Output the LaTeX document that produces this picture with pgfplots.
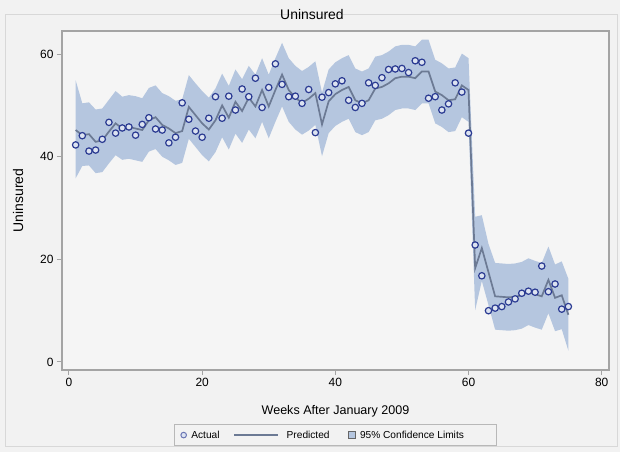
\documentclass[border=0pt]{standalone}
\usepackage{pgfplots}
\pgfplotsset{compat=1.18}
\usepackage{pgfplotstable}
\usepackage{fontspec}
\setmainfont{Liberation Sans}
\definecolor{bgc}{HTML}{F2F2F2}
\definecolor{plotbg}{HTML}{F5F5F5}
\definecolor{framec}{HTML}{A4A4A4}
\definecolor{bandc}{HTML}{B5C6DF}
\definecolor{linec}{HTML}{6C7A94}
\definecolor{markc}{HTML}{2B3B92}
\definecolor{markfill}{HTML}{DCE3F1}
\definecolor{legc}{HTML}{B8B8B8}
\definecolor{outc}{HTML}{D8D8D8}

\pgfplotstableread{
w act pred
1 42.3 45.2
2 44.1 44.2
3 41.1 44.4
4 41.3 42.9
5 43.4 43.2
6 46.7 44.9
7 44.6 46.5
8 45.6 45.5
9 45.8 45.8
10 44.2 45.5
11 46.3 45.2
12 47.6 47.1
13 45.4 47.7
14 45.2 46.2
15 42.7 45.5
16 43.8 44.6
17 50.5 45.0
18 47.3 49.7
19 45.0 48.1
20 43.8 46.5
21 47.5 45.3
22 51.7 47.1
23 47.5 50.0
24 51.8 47.6
25 49.1 50.7
26 53.2 48.9
27 51.7 51.5
28 55.3 49.8
29 49.6 53.0
30 53.5 49.8
31 58.1 53.0
32 54.1 56.0
33 51.7 53.0
34 51.8 51.5
35 50.4 50.5
36 53.1 51.3
37 44.7 52.4
38 51.6 46.3
39 52.5 50.8
40 54.2 52.2
41 54.8 53.0
42 51.0 53.6
43 49.6 51.0
44 50.4 50.4
45 54.4 51.0
46 53.9 53.3
47 55.4 53.6
48 57.0 54.3
49 57.1 55.3
50 57.2 55.6
51 56.4 55.6
52 58.7 55.3
53 58.4 56.6
54 51.4 56.6
55 51.7 52.7
56 49.1 52.0
57 50.3 51.0
58 54.4 51.2
59 52.6 53.9
60 44.6 53.0
61 22.8 18.3
62 16.8 22.2
63 10.0 17.5
64 10.5 12.8
65 10.8 12.7
66 11.7 12.6
67 12.3 12.7
68 13.4 13.0
69 13.8 13.7
70 13.6 13.2
71 18.7 12.8
72 13.7 16.0
73 15.2 12.5
74 10.3 13.0
75 10.8 9.2
}\datatab

\begin{document}
\begin{tikzpicture}
\path[use as bounding box] (0bp,0bp) rectangle (620bp,452bp);
\fill[bgc] (0bp,0bp) rectangle (620bp,452bp);
\draw[outc, line width=1bp] (5bp,5bp) rectangle (617bp,437bp);
\begin{axis}[
  at={(62bp,82bp)}, anchor=south west,
  width=547bp, height=339bp, scale only axis,
  xmin=-1.05, xmax=81.1, ymin=-1.56, ymax=64.5,
  axis background/.style={fill=plotbg},
  axis line style={framec, line width=1.3bp},
  xtick={0,20,40,60,80}, ytick={0,20,40,60},
  tick pos=left, tick align=outside, major tick length=5bp,
  tick style={framec, line width=1bp},
  /pgf/number format/assume math mode=true,
  tick label style={font=\fontsize{12}{14}\selectfont},
  title={Uninsured},
  title style={font=\fontsize{14}{16}\selectfont, at={(axis description cs:0.457,1)}, anchor=center, yshift=11bp},
  xlabel={Weeks After January 2009},
  xlabel style={font=\fontsize{12.6}{15}\selectfont, at={(axis description cs:0.5,0)}, anchor=north, yshift=-31.5bp},
  ylabel={Uninsured},
  ylabel style={font=\fontsize{14}{16}\selectfont, at={(axis description cs:-0.0804,0.5)}, anchor=center},
  legend style={at={(axis description cs:0.499,-0.192)}, anchor=center, draw=legc, fill=bgc,
    font=\fontsize{10.2}{12}\selectfont, inner xsep=4bp, inner ysep=4bp,
    /tikz/every even column/.append style={column sep=12bp}},
  legend columns=3, legend cell align=left,
]
% 95% confidence band: upper limits forward, lower limits backward
\addplot[fill=bandc, draw=none, forget plot] coordinates {
(1,54.9)(2,50.4)(3,50.6)(4,49.2)(5,49.4)(6,51.1)(7,52.8)(8,51.7)(9,52.0)(10,51.8)
(11,51.4)(12,53.4)(13,53.9)(14,52.4)(15,51.8)(16,50.9)(17,51.2)(18,55.9)(19,54.3)(20,52.8)
(21,51.5)(22,53.3)(23,56.2)(24,53.8)(25,57.0)(26,55.1)(27,57.7)(28,56.0)(29,59.2)(30,56.0)
(31,59.2)(32,62.2)(33,59.2)(34,57.7)(35,56.7)(36,57.5)(37,58.6)(38,52.5)(39,57.0)(40,58.4)
(41,59.2)(42,59.8)(43,57.2)(44,56.6)(45,57.2)(46,59.5)(47,59.8)(48,60.5)(49,61.5)(50,61.8)
(51,61.8)(52,61.5)(53,62.8)(54,62.8)(55,58.9)(56,58.2)(57,57.2)(58,57.4)(59,60.1)(60,59.2)
(61,28.3)(62,28.6)(63,23.0)(64,19.3)(65,19.2)(66,19.1)(67,19.2)(68,19.5)(69,20.2)(70,19.7)
(71,19.3)(72,22.5)(73,19.0)(74,19.6)(75,16.2)
(75,2.2)(74,6.4)(73,6.0)(72,9.5)(71,6.3)(70,6.7)(69,7.2)(68,6.5)(67,6.2)(66,6.1)
(65,6.2)(64,6.3)(63,11.1)(62,15.8)(61,10.1)
(60,46.8)(59,47.7)(58,45.0)(57,44.8)(56,45.8)(55,46.5)(54,50.4)(53,50.4)(52,49.1)(51,49.4)
(50,49.4)(49,49.1)(48,48.1)(47,47.4)(46,47.1)(45,44.8)(44,44.2)(43,44.8)(42,47.4)(41,46.8)
(40,46.0)(39,44.6)(38,40.1)(37,46.2)(36,45.1)(35,44.3)(34,45.3)(33,46.8)(32,49.8)(31,46.8)
(30,43.6)(29,46.8)(28,43.6)(27,45.3)(26,42.7)(25,44.5)(24,41.4)(23,43.8)(22,40.9)(21,39.1)
(20,40.3)(19,41.9)(18,43.5)(17,38.8)(16,38.4)(15,39.3)(14,40.0)(13,41.5)(12,41.0)(11,39.0)
(10,39.3)(9,39.6)(8,39.4)(7,40.3)(6,38.7)(5,37.0)(4,36.8)(3,38.3)(2,38.2)(1,35.8)
} -- cycle;
\addplot[linec, line width=1.7bp, no marks, forget plot] table[x=w,y=pred]{\datatab};
\addplot[only marks, mark=*, mark size=3.2bp, mark options={draw=markc, fill=markfill, line width=1.2bp}, forget plot] table[x=w,y=act]{\datatab};
\addlegendimage{legend image code/.code={\path (-2bp,0bp) (9bp,0bp); \draw[markc!70!white, fill=markfill, line width=1bp] (3.5bp,0bp) circle (2.8bp);}}
\addlegendentry{Actual}
\addlegendimage{legend image code/.code={\draw[linec, line width=1.8bp] (0bp,0bp) -- (44bp,0bp); \path (50bp,0bp);}}
\addlegendentry{Predicted}
\addlegendimage{legend image code/.code={\path (-5bp,0bp); \draw[black!60, fill=bandc, line width=0.8bp] (0bp,-3.5bp) rectangle (7bp,3.5bp); \path (9bp,0bp);}}
\addlegendentry{95\% Confidence Limits\hspace*{26bp}}
\end{axis}
\end{tikzpicture}
\end{document}
